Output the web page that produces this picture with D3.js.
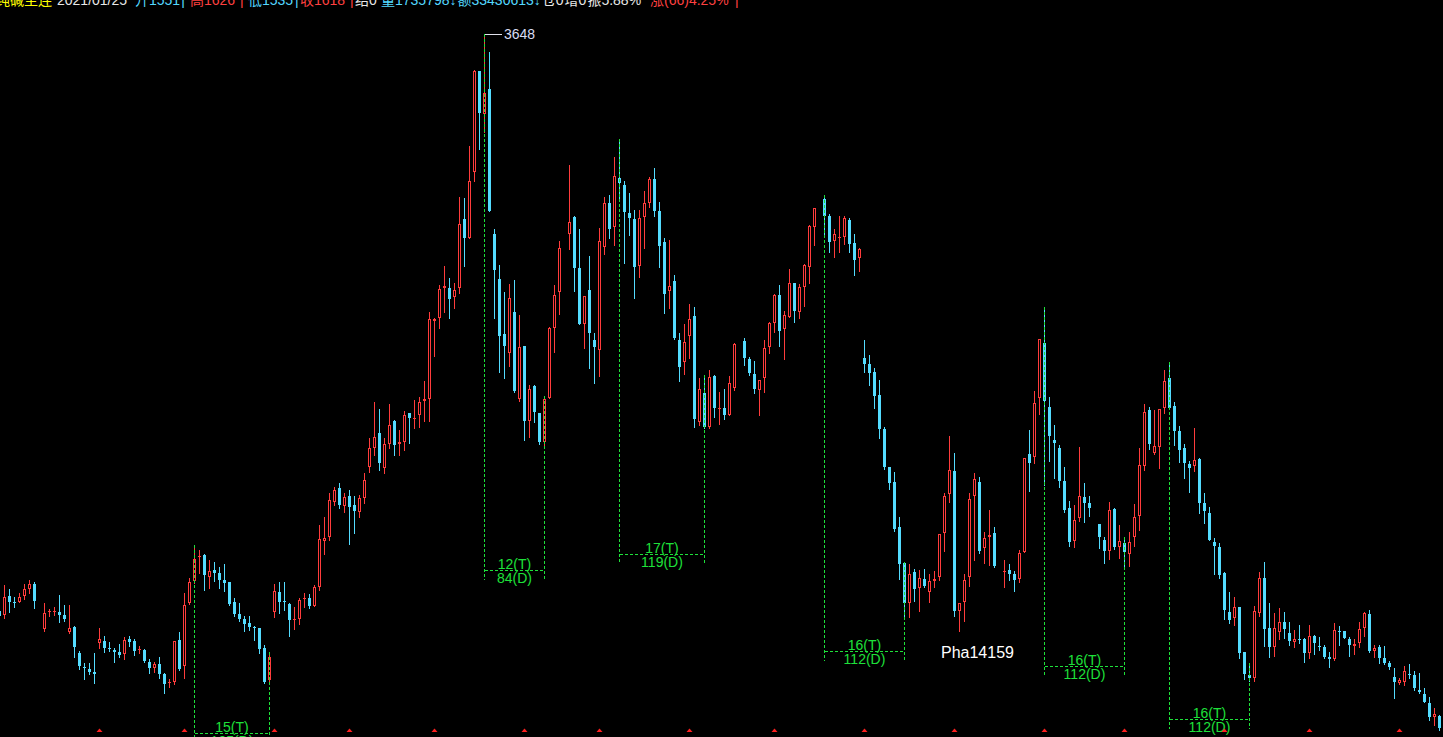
<!DOCTYPE html>
<html><head><meta charset="utf-8">
<script src="https://cdn.jsdelivr.net/npm/d3@7"></script>
<style>html,body{margin:0;padding:0;background:#000;overflow:hidden}svg{display:block}</style>
</head><body>
<svg id="chart" width="1443" height="737"></svg>
<script>
// ---- DATA (bar k = array index - 1; null = no bar) ----
const opens = [
1917,1905,1962,1944,1943,1962,1984,1998,null,1863,
1915,1915,1914,1905,1855,1870,1791,1750,1742,1734,
1822,1827,1807,1800,1794,1787,1834,1827,1799,1800,
1764,1747,1758,1728,1700,1704,1830,1753,1942,2008,
2078,2085,2020,2040,2032,2010,2005,1945,1908,1894,
1881,1870,1866,1806,1711,1915,1975,1946,1938,1891,
1894,1952,1955,1933,1990,2128,2140,2245,2285,2232,
2262,2235,2215,2255,2350,2405,2452,2345,2417,2487,
2417,2425,2510,2493,2505,2548,2552,2788,2797,2887,
2885,2860,2885,3093,3035,3235,3537,3407,3483,3048,
2913,2748,2692,2815,2553,2712,2488,2593,2512,2425,
2555,2765,2873,null,3047,3100,2947,2778,2880,2730,
2700,3008,3140,3068,3215,3195,3112,3093,2952,3098,
3140,3213,3117,3023,2878,2907,2730,2663,2742,2802,
2483,2570,2470,2622,2523,2525,2505,2585,null,2727,
2673,2628,2580,2617,2710,2780,2865,2764,2800,2900,
2815,2890,2950,3068,null,3153,3103,3028,3036,3040,
3090,3020,2975,2675,2658,2633,2565,2463,2348,2303,
2168,2060,1942,2033,1985,2013,1975,2008,2020,2150,
2267,2337,1918,1945,2020,2263,2303,2105,2138,2150,
null,2035,2040,2028,2012,2095,2387,2378,2555,2720,
2528,2430,2407,2307,2225,2128,2195,2260,2242,null,
2178,2130,2098,2222,2110,2120,2087,2138,2203,2353,
2520,2390,2410,2527,2615,2532,2457,2407,2357,2353,
2372,2240,2212,2125,2108,2030,1915,1895,1928,1795,
1725,1715,1910,2017,1867,1808,1853,1885,1852,1825,
1833,1833,1790,1843,1812,1810,1780,1773,1858,1858,
1833,1813,1820,1865,1908,1798,1810,1777,1760,1720,
1702,1705,1728,1725,1680,1668,1642,1600,1603];
const highs = [
1925,1995,1983,1960,1971,1998,2010,2003,null,1940,
1924,1928,1965,1935,1935,1872,1798,1760,1761,1790,
1866,1842,1824,1806,1818,1838,1842,1833,1812,1804,
1774,1765,1779,1730,1713,1826,1855,1972,2015,2115,
2100,2088,2070,2064,2049,2058,2005,1955,1941,1902,
1902,1872,1866,1815,1795,1998,2005,2005,1940,1928,
1956,1972,1968,1995,2175,2200,2270,2290,2300,2270,
2280,2262,2265,2330,2435,2545,2523,2435,2538,2490,
2460,2518,2510,2550,2558,2607,2815,2795,2895,2953,
2917,2902,3160,3155,3313,3540,3537,3648,3595,3063,
2955,2875,2897,2910,2805,2712,2595,2595,2512,2563,
2770,2895,3027,null,3255,3103,3063,2862,2983,2750,
3065,3160,3165,3278,3333,3208,3170,3120,3120,3177,
3220,3247,3145,3035,3030,2925,2750,2778,2837,2828,
2615,2625,2640,2625,2575,2582,2622,2720,null,2736,
2680,2667,2610,2730,2783,2867,2894,2817,2943,2900,
2897,2958,3075,3125,null,3165,3108,3062,3102,3102,
3097,3048,3007,2730,2685,2647,2610,2470,2350,2333,
2200,2063,2058,2043,2040,2043,2027,2037,2148,2270,
2442,2390,1940,2028,2270,2330,2318,2153,2220,2170,
null,2070,2057,2037,2100,2375,2460,2577,2732,2830,
2558,2475,2415,2348,2247,2235,2410,2302,2262,null,
2178,2140,2244,2225,2175,2138,2155,2238,2407,2538,
2530,2520,2523,2640,2665,2545,2473,2418,2367,2467,
2377,2272,2230,2135,2122,2035,1975,1960,1930,1795,
1760,1932,2035,2065,1942,1910,1925,1915,1883,1860,
1875,1837,1875,1845,1840,1815,1793,1882,1873,1858,
1840,1833,1883,1915,1920,1815,1815,1812,1767,1745,
1717,1753,1758,1737,1730,1685,1660,1627,1605];
const lows = [
1895,1897,1915,1930,1943,1952,1972,1927,null,1858,
1902,1905,1885,1888,1852,1780,1744,1714,1728,1702,
1807,1795,1798,1765,1780,1773,1812,1786,1792,1764,
1732,1734,1717,1672,1688,1698,1741,1717,1937,2000,
2032,1980,1987,2008,1987,1978,1935,1902,1888,1858,
1860,1830,1792,1702,1708,1900,1912,1920,1842,1864,
1878,1928,1927,1932,1980,2088,2130,2235,2225,2215,
2118,2150,2200,2240,2335,2385,2340,2330,2405,2385,
2385,2400,2422,2465,2470,2488,2488,2683,2767,2813,
2797,2825,2870,2953,3035,3208,3303,3355,3118,2797,
2635,2617,2653,2575,2548,2430,2438,2485,2417,2405,
2555,2695,2808,null,3002,2877,2777,2707,2647,2602,
2623,2988,3035,3015,3150,2962,3045,2857,2920,3005,
3130,3103,2950,2810,2827,2732,2608,2627,2675,2468,
2475,2465,2467,2500,2477,2493,2505,2580,null,2655,
2625,2572,2505,2575,2692,2755,2713,2673,2800,2785,
2797,2833,2902,3015,null,3047,2995,2980,2995,3017,
2995,2925,2938,2635,2595,2527,2437,2342,2282,2158,
2012,1900,1900,1948,1918,1988,1945,1990,2010,2098,
2245,1903,1858,1888,1993,2070,2092,2062,2055,2050,
null,1990,2010,1978,2003,2093,2278,2360,2507,2295,
2368,2317,2290,2215,2113,2110,2188,2185,2203,null,
2107,2062,2072,2103,2075,2050,2052,2113,2160,2340,
2403,2388,2347,2510,2527,2415,2365,2317,2275,2337,
2210,2182,2130,2028,2015,1893,1880,1875,1777,1712,
1708,1708,1902,1813,1780,1783,1832,1835,1815,1810,
1822,1763,1775,1788,1800,1775,1750,1770,1815,1835,
1783,1787,1810,1843,1795,1780,1762,1758,1742,1655,
1697,1695,1715,1680,1670,1643,1590,1575,1560];
const closes = [
1902,1958,1945,1941,1958,1983,1998,1948,null,1910,
1917,1918,1906,1894,1866,1810,1752,1745,1735,1729,
1833,1807,1802,1795,1785,1830,1824,1797,1802,1768,
1747,1757,1729,1699,1705,1826,1743,1934,2003,2073,
2082,2025,2036,2032,2010,2002,1938,1909,1893,1878,
1869,1868,1803,1705,1779,1977,1945,1943,1890,1893,
1950,1955,1932,1988,2132,2136,2250,2280,2235,2258,
2228,2218,2255,2310,2407,2438,2360,2418,2475,2415,
2425,2505,2495,2497,2545,2552,2792,2792,2883,2892,
2852,2879,3077,3035,3207,3537,3412,3470,3118,2940,
2743,2713,2855,2577,2710,2488,2583,2515,2425,2553,
2767,2865,3005,null,3083,2945,2777,2862,2752,2710,
3027,3140,3062,3222,3200,3113,3095,2948,3097,3140,
3213,3118,3013,2867,2892,2737,2650,2723,2793,2492,
2583,2470,2620,2525,2527,2505,2600,2718,null,2677,
2630,2583,2610,2705,2780,2865,2757,2805,2900,2817,
2888,2955,3072,3125,null,3103,3025,3047,3038,3095,
3018,2970,3003,2658,2632,2563,2462,2350,2300,2163,
2057,1942,2027,1982,2015,1993,2007,2013,2148,2262,
2340,1918,1940,2010,2253,2312,2097,2135,2144,2052,
null,2038,2027,2010,2090,2375,2362,2540,2732,2548,
2443,2422,2308,2220,2125,2190,2262,2242,2227,null,
2140,2098,2220,2108,2127,2093,2123,2198,2355,2513,
2418,2412,2523,2607,2527,2458,2400,2362,2347,2370,
2242,2218,2130,2112,2025,1920,1890,1930,1792,1727,
1717,1917,2017,1863,1810,1867,1883,1863,1827,1833,
1830,1792,1842,1820,1810,1780,1772,1860,1855,1835,
1815,1817,1863,1910,1798,1807,1777,1762,1750,1705,
1710,1737,1725,1687,1673,1645,1600,1608,1565];

// cycle annotations: start bar, end bar, labels, level price of the bracket
const cycleStart = [38, 96, 123, 164, 208, 233];
const cycleEnd   = [53, 108, 140, 180, 224, 249];
const cycleT     = ["15(T)", "12(T)", "17(T)", "16(T)", "16(T)", "16(T)"];
const cycleD     = ["105(D)", "84(D)", "119(D)", "112(D)", "112(D)", "112(D)"];
const cycleLevel = [1550, 2040, 2088, 1796, 1752, 1592];

// month-start markers (bar numbers)
const monthMarks = [19, 36, 54, 69, 86, 104, 119, 137, 154, 172, 190, 208, 224, 244, 261, 279];

// peak label
const peakBar = 96, peakLabel = "3648";

// free text label
const noteText = "Pha14159", noteBar = 187.4, notePrice = 1776;

// header (quote line)
const headerTexts  = ["纯碱主连","2021/01/25","开1551","|","高1626","|","低1535","|","收1618","|","结0","量1735798↓","额33430613↓","仓0","增0","振5.88%","涨(66)4.25%","|"];
const headerColors = ["#ffff00","#e8e8e8","#54d8ff","#54d8ff","#ff4040","#ff4040","#54d8ff","#54d8ff","#ff4040","#ff4040","#e8e8e8","#54d8ff","#54d8ff","#e8e8e8","#e8e8e8","#e8e8e8","#ff4040","#ff4040"];

// ---- LAYOUT ----
const headerX = [-4, 57, 135, 180, 190, 240, 248, 295, 300, 350, 355, 381, 455, 538, 563, 587, 650, 735];

// ---- DRAW ----
const W = 1443, H = 737;
const UP = "#ff3c3c", DOWN = "#54dcff", CYC = "#1ee03a";
const svg = d3.select("#chart");
svg.append("rect").attr("width", W).attr("height", H).attr("fill", "#000");

const n = opens.length;
const bars = d3.range(n).filter(i => opens[i] != null).map(i => ({k: i - 1, o: opens[i], h: highs[i], l: lows[i], c: closes[i]}));

const x = d3.scaleLinear().domain([-1, n - 2]).range([-1, -1 + 5 * (n - 1)]);
const y = d3.scaleLinear().domain([3750, 1539]).range([0, H]);
const px = k => Math.round(x(k));
const py = v => Math.round(y(v));

const g = svg.append("g").attr("shape-rendering", "crispEdges");

// wicks
g.selectAll("rect.wick").data(bars).join("rect")
  .attr("class", "wick")
  .attr("x", d => px(d.k)).attr("width", 1)
  .attr("y", d => py(d.h))
  .attr("height", d => Math.max(1, py(d.l) - py(d.h) + 1))
  .attr("fill", d => d.c >= d.o ? UP : DOWN);

// bodies
bars.forEach(d => {
  const cx = px(d.k);
  const top = py(Math.max(d.o, d.c)), bot = py(Math.min(d.o, d.c));
  if (d.c < d.o) {
    g.append("rect").attr("x", cx - 1).attr("width", 3)
      .attr("y", top).attr("height", Math.max(1, bot - top)).attr("fill", DOWN);
  } else if (bot - top < 3) {
    g.append("rect").attr("x", cx - 1).attr("width", 3)
      .attr("y", top).attr("height", Math.max(1, bot - top)).attr("fill", UP);
  } else {
    g.append("rect").attr("x", cx - 0.5).attr("width", 2)
      .attr("y", top + 0.5).attr("height", bot - top - 1)
      .attr("fill", "#000").attr("stroke", UP).attr("stroke-width", 1);
  }
});

// peak label
{
  const cx = px(peakBar), yy = py(highs[peakBar + 1]);
  svg.append("line").attr("x1", cx).attr("x2", cx + 18).attr("y1", yy + 0.5).attr("y2", yy + 0.5)
    .attr("stroke", "#e0e0ea").attr("stroke-width", 1).attr("shape-rendering", "crispEdges");
  svg.append("text").attr("x", cx + 20).attr("y", yy + 5)
    .attr("fill", "#d8dcf4").attr("font-family", "Liberation Sans, Arial, sans-serif")
    .attr("font-size", 14).text(peakLabel);
}

// cycle brackets
const cg = svg.append("g");
cycleStart.forEach((s, i) => {
  const e = cycleEnd[i];
  const xs = px(s) + 0.5, xe = px(e) + 0.5;
  const ly = py(cycleLevel[i]) + 0.5;
  [s, e].forEach(b => {
    cg.append("line").attr("x1", px(b) + 0.5).attr("x2", px(b) + 0.5)
      .attr("y1", py(highs[b + 1])).attr("y2", ly + 9)
      .attr("stroke", CYC).attr("stroke-width", 1).attr("stroke-dasharray", "3,2")
      .attr("shape-rendering", "crispEdges");
  });
  cg.append("line").attr("x1", xs).attr("x2", xe).attr("y1", ly).attr("y2", ly)
    .attr("stroke", CYC).attr("stroke-width", 1).attr("stroke-dasharray", "3,2")
    .attr("shape-rendering", "crispEdges");
  const mx = (xs + xe) / 2;
  cg.append("text").attr("x", mx).attr("y", ly - 1.5).attr("text-anchor", "middle")
    .attr("fill", CYC).attr("font-family", "Liberation Sans, Arial, sans-serif").attr("font-size", 14)
    .text(cycleT[i]);
  cg.append("text").attr("x", mx).attr("y", ly + 12).attr("text-anchor", "middle")
    .attr("fill", CYC).attr("font-family", "Liberation Sans, Arial, sans-serif").attr("font-size", 14)
    .text(cycleD[i]);
});

// month markers
svg.selectAll("path.mark").data(monthMarks).join("path")
  .attr("class", "mark")
  .attr("d", k => { const cx = px(k) + 0.5; return `M${cx - 3},732 L${cx},728.5 L${cx + 3},732 Z`; })
  .attr("fill", "#ff2020");

// note
svg.append("text").attr("x", x(noteBar)).attr("y", y(notePrice))
  .attr("fill", "#ffffff").attr("font-family", "Liberation Sans, Arial, sans-serif")
  .attr("font-size", 16).text(noteText);

// header: each segment at its nominal x, pushed right if it would overlap the previous one
const hg = svg.append("g").attr("font-family", "Liberation Sans, Noto Sans CJK SC, sans-serif").attr("font-size", 14);
let prevEnd = -Infinity;
headerTexts.forEach((t, i) => {
  const xx = Math.max(headerX[i], prevEnd + 1);
  const el = hg.append("text").attr("x", xx).attr("y", 5).attr("fill", headerColors[i]).text(t);
  prevEnd = xx + el.node().getComputedTextLength();
});
</script>
</body></html>
